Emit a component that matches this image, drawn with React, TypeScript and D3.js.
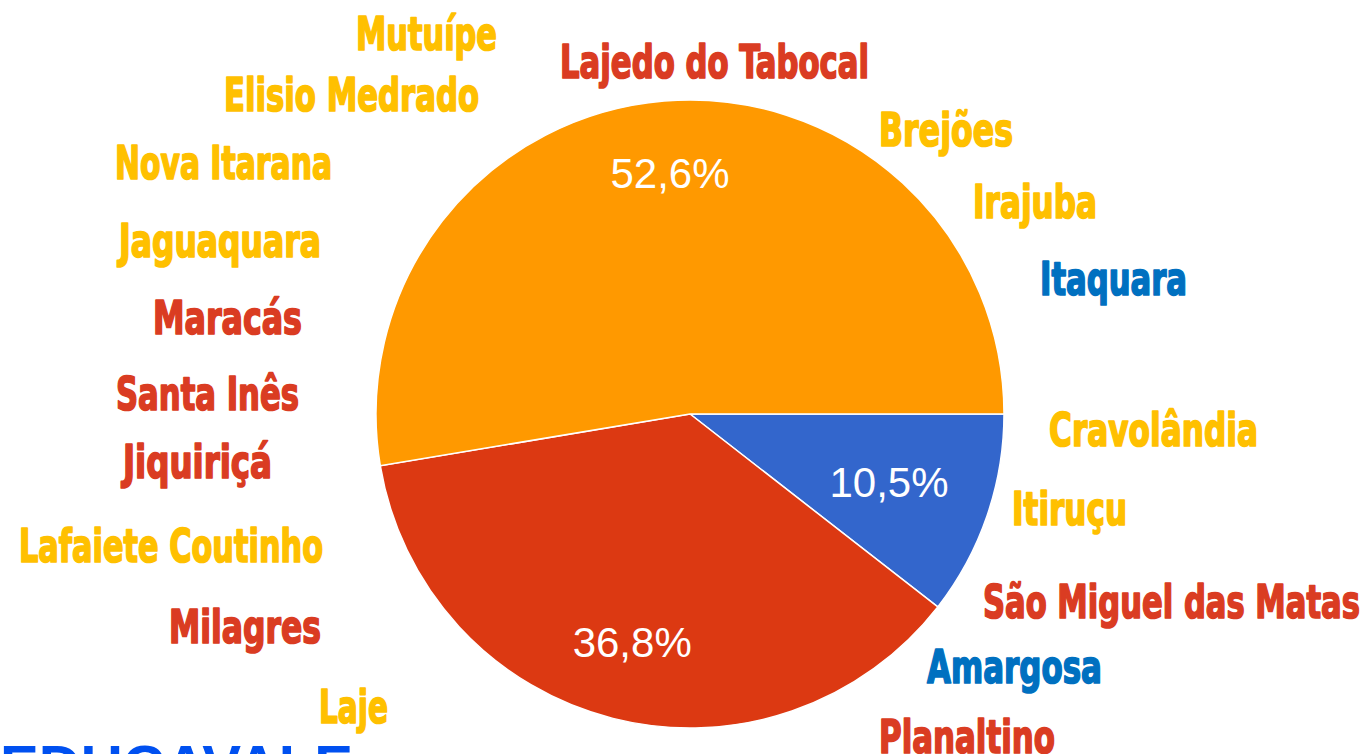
import React, { useRef, useEffect } from 'react';
import * as d3 from 'd3';

// cities of the region and the group each one belongs to
const cities = [
  'Mutuípe', 'Elisio Medrado', 'Nova Itarana', 'Jaguaquara', 'Maracás',
  'Santa Inês', 'Jiquiriçá', 'Lafaiete Coutinho', 'Milagres', 'Laje',
  'Lajedo do Tabocal', 'Brejões', 'Irajuba', 'Itaquara', 'Cravolândia',
  'Itiruçu', 'São Miguel das Matas', 'Amargosa', 'Planaltino',
];
const cityGroup = [
  'A', 'A', 'A', 'A', 'B',
  'B', 'B', 'A', 'B', 'A',
  'B', 'A', 'A', 'C', 'A',
  'A', 'B', 'C', 'B',
];
// pie order, clockwise from 3 o'clock
const groups = ['C', 'B', 'A'];

const sliceColor = { A: '#FF9900', B: '#DC3912', C: '#3366CC' };
const textColor = { A: '#FFC000', B: '#DA3C22', C: '#0070C0' };
const labelRadius = { A: 0.77, B: 0.75, C: 0.67 };

// where each city name sits: left, right, baseline
const cityBox = [
  [356, 497, 50], [224, 479, 111], [115, 332, 179], [119, 321, 257], [153, 302, 334],
  [116, 299, 410], [123, 272, 478], [19, 323, 562], [169, 321, 643], [319, 388, 723],
  [560, 869, 78], [879, 1013, 146], [973, 1097, 218], [1040, 1187, 295], [1049, 1258, 446],
  [1012, 1127, 525], [983, 1360, 618], [927, 1102, 683], [879, 1055, 753],
];

const W = 1369;
const H = 754;

const PieChart = () => {
  const chart = useRef(null);

  useEffect(() => {
    d3.select(chart.current).selectAll('*').remove();

    const counts = d3.rollup(cityGroup, (v) => v.length, (g) => g);
    const data = groups.map((g) => ({ group: g, value: counts.get(g) || 0 }));
    const total = d3.sum(data, (d) => d.value);

    const svg = d3
      .select(chart.current)
      .append('svg')
      .attr('width', W)
      .attr('height', H)
      .style('display', 'block')
      .style('background-color', '#ffffff');

    const cx = 690;
    const cy = 414;
    const r = 314;

    const pie = d3
      .pie()
      .sort(null)
      .value((d) => d.value)
      .startAngle(Math.PI / 2)
      .endAngle(Math.PI / 2 + 2 * Math.PI);

    const arc = d3.arc().innerRadius(0).outerRadius(r);
    const arcs = pie(data);

    const g = svg.append('g').attr('transform', `translate(${cx}, ${cy})`);

    g.selectAll('path')
      .data(arcs)
      .enter()
      .append('path')
      .attr('d', arc)
      .attr('fill', (d) => sliceColor[d.data.group])
      .attr('stroke', '#fff')
      .attr('stroke-width', 1.5);

    const fmt = (v) => d3.format('.1f')((v / total) * 100).replace('.', ',') + '%';

    g.selectAll('text.pct')
      .data(arcs)
      .enter()
      .append('text')
      .attr('class', 'pct')
      .attr('transform', (d) => {
        const lr = r * labelRadius[d.data.group];
        const c = d3.arc().innerRadius(lr).outerRadius(lr).centroid(d);
        return `translate(${c[0]}, ${c[1]})`;
      })
      .attr('text-anchor', 'middle')
      .attr('dy', '0.36em')
      .attr('fill', '#fff')
      .style('font-family', 'Arial, "Liberation Sans", sans-serif')
      .style('font-size', '42px')
      .text((d) => fmt(d.data.value));

    // city names
    svg
      .append('g')
      .selectAll('text')
      .data(cities)
      .enter()
      .append('text')
      .attr('x', (d, i) => cityBox[i][0])
      .attr('y', (d, i) => cityBox[i][2])
      .attr('textLength', (d, i) => cityBox[i][1] - cityBox[i][0])
      .attr('lengthAdjust', 'spacingAndGlyphs')
      .attr('fill', (d, i) => textColor[cityGroup[i]])
      .attr('stroke', (d, i) => textColor[cityGroup[i]])
      .attr('stroke-width', 1.7)
      .attr('stroke-linejoin', 'round')
      .style('font-family', '"Liberation Sans Narrow", "DejaVu Sans Condensed", sans-serif')
      .style('font-weight', 'bold')
      .style('font-size', '46px')
      .text((d) => d);

    // watermark, cut by the bottom edge
    svg
      .append('text')
      .attr('x', 0)
      .attr('y', 786)
      .attr('textLength', 353)
      .attr('lengthAdjust', 'spacingAndGlyphs')
      .attr('fill', '#0050F0')
      .style('font-family', 'Arial, "Liberation Sans", sans-serif')
      .style('font-weight', 'bold')
      .style('font-size', '57px')
      .text('EDUCAVALE');
  }, []);

  return <div ref={chart} style={{ position: 'absolute', left: 0, top: 0 }}></div>;
};

export default function App() {
  return <PieChart />;
}
